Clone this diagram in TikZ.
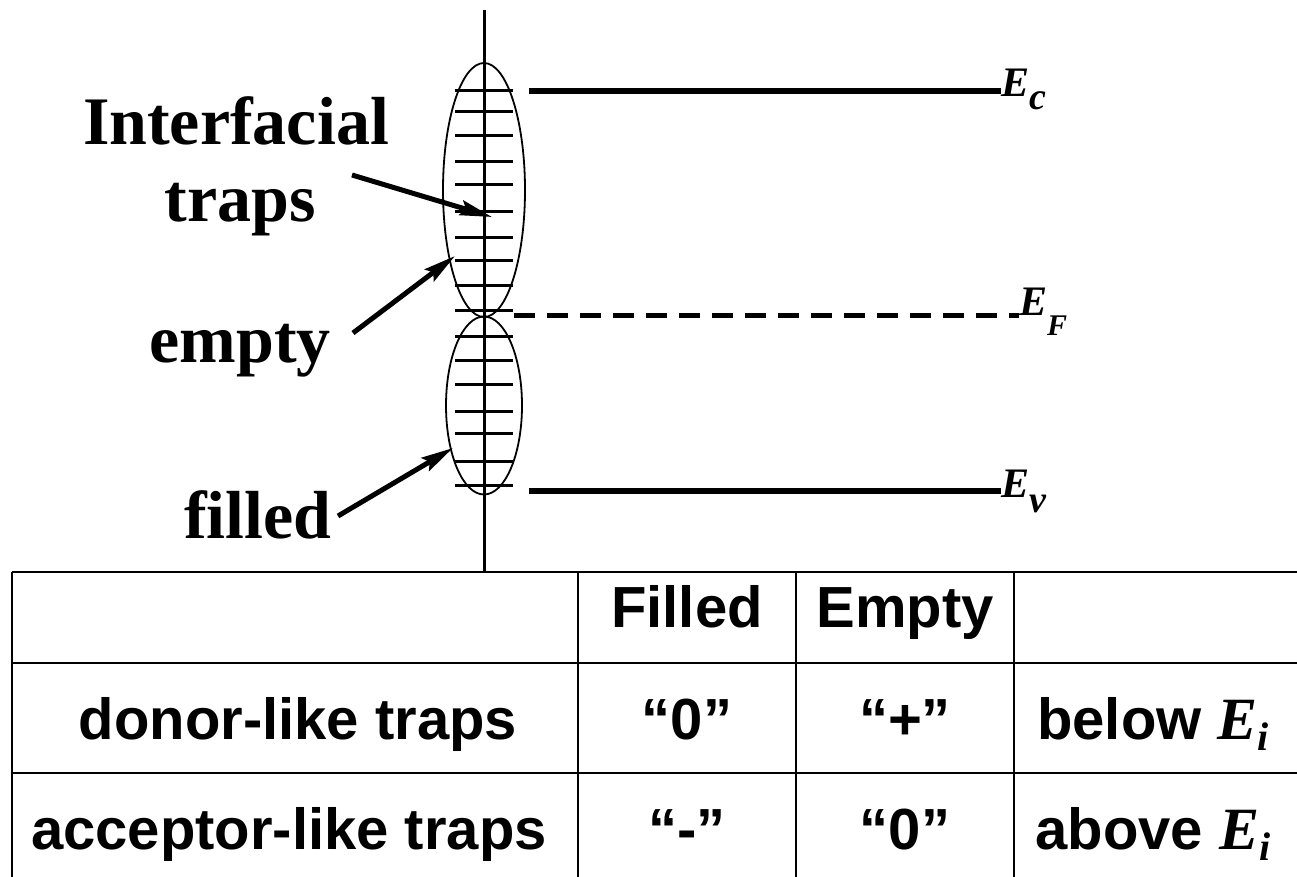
\documentclass[tikz,border=0pt]{standalone}
\usepackage{fontspec}
\setmainfont{Liberation Serif}
\setsansfont{Liberation Sans}
\usetikzlibrary{arrows.meta}
\begin{document}
\begin{tikzpicture}[x=1pt,y=-1pt,
  lbl/.style={font=\fontsize{68}{80}\selectfont\bfseries, anchor=base, inner sep=0pt},
  tbl/.style={font=\sffamily\fontsize{58}{66}\selectfont\bfseries, anchor=base, inner sep=0pt},
  elbl/.style={font=\fontsize{42}{46}\selectfont\bfseries\itshape, anchor=base west, inner sep=0pt},
  tickln/.style={line width=3pt},
  axisln/.style={line width=3pt},
  levelln/.style={line width=5.5pt},
  fermiln/.style={line width=5pt, dash pattern=on 21pt off 12pt},
  bandell/.style={line width=1.8pt},
  ptr/.style={line width=5pt, -{Stealth[length=32pt,width=15pt,inset=5pt]}},
  gridln/.style={line width=2pt}]
\useasboundingbox (0,0) rectangle (1297,877);
% axis
\coordinate (axtop) at (484,10);
\coordinate (axbot) at (484,572);
\draw[axisln] (axtop) -- (axbot);
% trap ticks
\foreach \yy in {91,112,136,162,185,212,238,260,285,310,336,360,384,411,433,461,485}
  \draw[tickln] (455,\yy) -- (513,\yy);
% ellipses
\draw[bandell] (484,190) ellipse [x radius=41pt, y radius=127pt];
\draw[bandell] (484,405.5) ellipse [x radius=38pt, y radius=89pt];
% levels
\coordinate (ecs) at (529,91);
\coordinate (efs) at (514,315);
\coordinate (evs) at (529,491);
\node[elbl] (ec) at (1001,97) {E\raisebox{-13pt}{\fontsize{38}{40}\selectfont c}};
\node[elbl] (ef) at (1019,315) {E\raisebox{-20pt}{\fontsize{30}{32}\selectfont F}};
\node[elbl] (ev) at (1001,497) {E\raisebox{-15pt}{\fontsize{38}{40}\selectfont v}};
\draw[levelln] (ecs) -- (ec.west |- ecs);
\draw[fermiln] (efs) -- (ef.west |- efs);
\draw[levelln] (evs) -- (ev.west |- evs);
% labels
\node[lbl] (interf) at (236,145) {Interfacial};
\node[lbl] (traps) at (240,222) {traps};
\node[lbl] (empty) at (240,362) {empty};
\node[lbl] (filled) at (258,538) {filled};
\coordinate (p1s) at (352,175);
\coordinate (p1e) at (492,217);
\coordinate (p2s) at (353,333);
\coordinate (p2e) at (455,256);
\coordinate (p3s) at (338,516);
\coordinate (p3e) at (453,448);
\draw[ptr] (p1s) -- (p1e);
\draw[ptr] (p2s) -- (p2e);
\draw[ptr] (p3s) -- (p3e);
% table
\draw[gridln] (12,572) -- (1297,572);
\draw[gridln] (12,663) -- (1297,663);
\draw[gridln] (12,773) -- (1297,773);
\foreach \xx in {12,578,796,1014}
  \draw[gridln] (\xx,572) -- (\xx,877);
\node[tbl] (hfill) at (687,627) {Filled};
\node[tbl] (hempt) at (905,627) {Empty};
\node[tbl] (donor) at (298,739) {donor-like traps};
\node[tbl] (d0) at (687,739) {“0”};
\node[tbl] (dplus) at (905,739) {“+”};
\node[tbl] (dpos) at (1153,739) {below {\rmfamily\itshape\fontsize{60}{64}\selectfont E\raisebox{-11pt}{\fontsize{40}{44}\selectfont i}}};
\node[tbl] (accep) at (289,849) {acceptor-like traps};
\node[tbl] (aminus) at (687,849) {“-”};
\node[tbl] (a0) at (905,849) {“0”};
\node[tbl] (apos) at (1153,849) {above {\rmfamily\itshape\fontsize{60}{64}\selectfont E\raisebox{-11pt}{\fontsize{40}{44}\selectfont i}}};
\end{tikzpicture}
\end{document}
